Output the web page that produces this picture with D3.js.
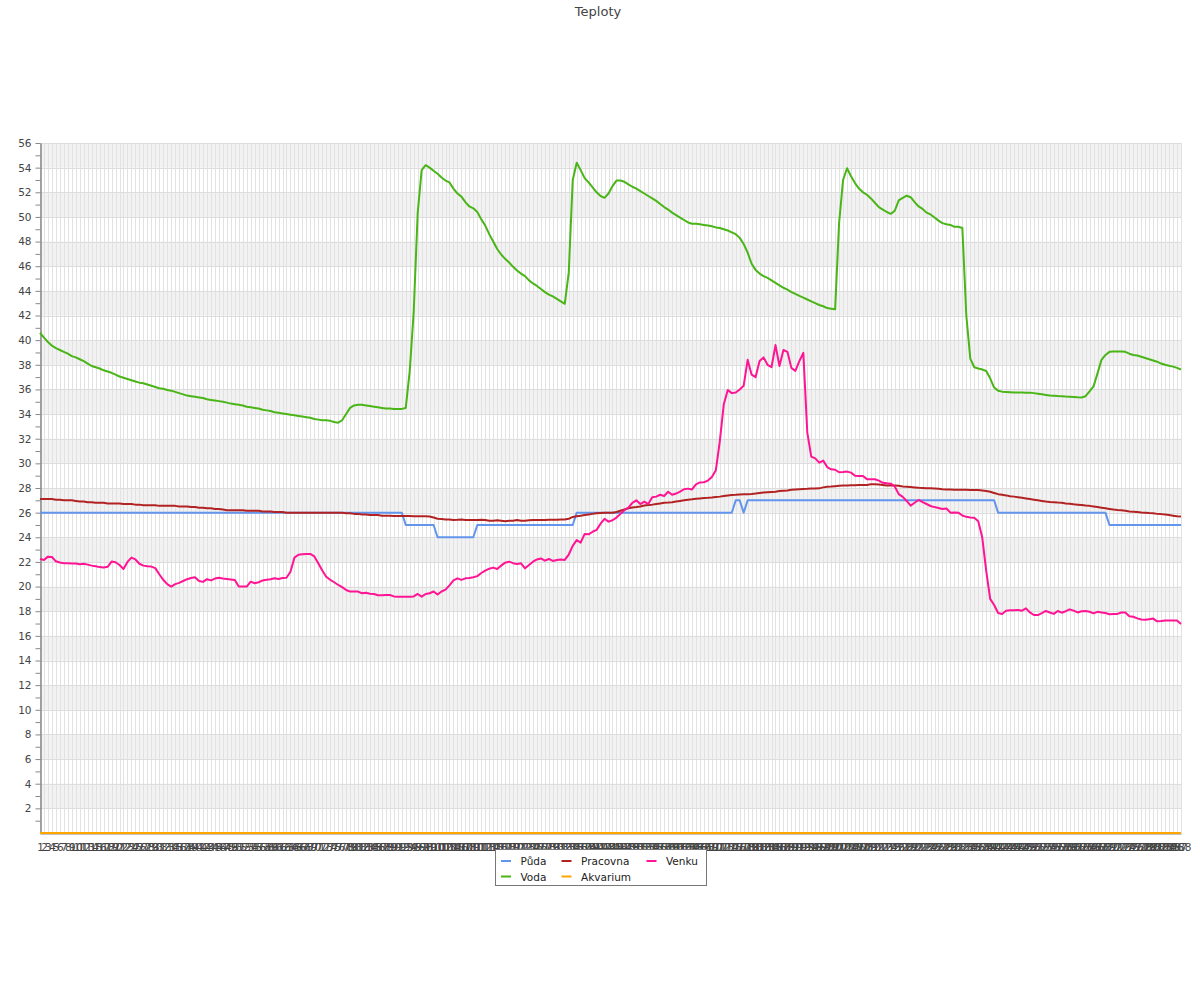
<!DOCTYPE html>
<html><head><meta charset="utf-8">
<script src="https://cdn.jsdelivr.net/npm/d3@7/dist/d3.min.js"></script>
<style>body{margin:0;background:#fff}svg{display:block}text{font-family:"DejaVu Sans",sans-serif}</style>
</head><body><svg id="c" width="1200" height="1000"></svg>
<script>
const title = "Teploty";
const categories = d3.range(1, 289).map(String);
const seriesNames = ["Půda", "Voda", "Pracovna", "Akvarium", "Venku"];
const seriesColors = ["#6495ED", "#4AB517", "#B22222", "#FFA500", "#FF1493"];
const yTicks = d3.range(2, 57, 2);

const puda = [
26,26,26,26,26,26,26,26,26,26, 26,26,26,26,26,26,26,26,26,26,
26,26,26,26,26,26,26,26,26,26, 26,26,26,26,26,26,26,26,26,26,
26,26,26,26,26,26,26,26,26,26, 26,26,26,26,26,26,26,26,26,26,
26,26,26,26,26,26,26,26,26,26, 26,26,26,26,26,26,26,26,26,26,
26,26,26,26,26,26,26,26,26,26, 26,26,25,25,25,25,25,25,25,25,
24,24,24,24,24,24,24,24,24,24, 25,25,25,25,25,25,25,25,25,25,
25,25,25,25,25,25,25,25,25,25, 25,25,25,25,25,26,26,26,26,26,
26,26,26,26,26,26,26,26,26,26, 26,26,26,26,26,26,26,26,26,26,
26,26,26,26,26,26,26,26,26,26, 26,26,26,26,26,27,27,26,27,27,
27,27,27,27,27,27,27,27,27,27, 27,27,27,27,27,27,27,27,27,27,
27,27,27,27,27,27,27,27,27,27, 27,27,27,27,27,27,27,27,27,27,
27,27,27,27,27,27,27,27,27,27, 27,27,27,27,27,27,27,27,27,27,
27,26,26,26,26,26,26,26,26,26, 26,26,26,26,26,26,26,26,26,26,
26,26,26,26,26,26,26,26,26,25, 25,25,25,25,25,25,25,25,25,25,
25,25,25,25,25,25,25,25];

const voda = [
40.6,40.2,39.85,39.55,39.35,39.2,39.05,38.9,38.7,38.6,
38.45,38.3,38.1,37.9,37.8,37.7,37.55,37.45,37.35,37.2,
37.05,36.95,36.85,36.75,36.65,36.55,36.5,36.4,36.3,36.2,
36.1,36.05,35.95,35.9,35.8,35.7,35.6,35.5,35.45,35.4,
35.35,35.3,35.2,35.15,35.1,35.05,35.0,34.93,34.85,34.8,
34.75,34.7,34.6,34.55,34.5,34.45,34.35,34.3,34.25,34.15,
34.1,34.05,34.0,33.95,33.9,33.85,33.8,33.75,33.7,33.6,
33.55,33.5,33.5,33.45,33.35,33.3,33.5,34.0,34.5,34.7,
34.75,34.75,34.7,34.65,34.6,34.55,34.5,34.45,34.45,34.42,
34.42,34.42,34.5,37.5,42.3,50.3,53.8,54.2,54.0,53.75,
53.5,53.2,52.95,52.8,52.3,51.9,51.65,51.2,50.85,50.7,
50.4,49.8,49.3,48.6,48.0,47.4,46.95,46.6,46.3,45.95,
45.65,45.4,45.2,44.85,44.6,44.4,44.15,43.9,43.7,43.55,
43.35,43.15,42.95,45.5,53.0,54.4,53.8,53.15,52.8,52.4,
52.0,51.7,51.55,51.9,52.5,52.95,52.95,52.85,52.65,52.45,
52.3,52.1,51.9,51.7,51.5,51.3,51.05,50.8,50.6,50.35,
50.15,49.95,49.75,49.55,49.45,49.45,49.4,49.35,49.3,49.25,
49.15,49.1,49.0,48.9,48.75,48.6,48.3,47.8,47.1,46.2,
45.7,45.4,45.2,45.05,44.85,44.65,44.45,44.25,44.1,43.9,
43.75,43.6,43.45,43.3,43.15,43.0,42.85,42.75,42.6,42.55,
42.5,49.5,53.0,53.95,53.3,52.75,52.3,52.0,51.8,51.5,
51.15,50.8,50.6,50.4,50.25,50.5,51.35,51.55,51.72,51.6,
51.2,50.85,50.65,50.35,50.2,49.95,49.7,49.5,49.4,49.35,
49.2,49.2,49.1,42.0,38.5,37.8,37.7,37.62,37.5,36.9,
36.15,35.9,35.82,35.8,35.78,35.76,35.75,35.75,35.74,35.74,
35.7,35.65,35.6,35.55,35.5,35.48,35.46,35.45,35.42,35.4,
35.38,35.36,35.35,35.45,35.85,36.25,37.3,38.4,38.8,39.05,
39.07,39.07,39.07,39.05,38.9,38.8,38.75,38.65,38.55,38.45,
38.35,38.25,38.1,38.0,37.92,37.85,37.75,37.62];

const pracovna = [
27.1,27.1,27.1,27.1,27.05,27.05,27.0,27.0,27.0,26.95,
26.9,26.9,26.85,26.85,26.8,26.8,26.8,26.75,26.75,26.75,
26.75,26.7,26.7,26.7,26.65,26.65,26.6,26.6,26.6,26.6,
26.55,26.55,26.55,26.55,26.55,26.5,26.5,26.5,26.45,26.45,
26.4,26.4,26.35,26.35,26.3,26.3,26.25,26.2,26.2,26.2,
26.2,26.2,26.15,26.15,26.15,26.15,26.1,26.1,26.1,26.05,
26.05,26.05,26.0,26.0,26.0,26.0,26.0,26.0,26.0,26.0,
26.0,26.0,26.0,26.0,26.0,26.0,26.0,25.95,25.95,25.9,
25.9,25.85,25.85,25.8,25.8,25.8,25.75,25.75,25.75,25.72,
25.72,25.72,25.72,25.72,25.7,25.7,25.7,25.7,25.68,25.6,
25.5,25.48,25.45,25.45,25.4,25.42,25.45,25.4,25.4,25.4,
25.4,25.42,25.4,25.35,25.35,25.38,25.35,25.3,25.35,25.35,
25.4,25.35,25.35,25.38,25.4,25.4,25.4,25.4,25.42,25.42,
25.42,25.45,25.45,25.5,25.65,25.7,25.75,25.8,25.85,25.9,
25.95,25.98,26.0,26.0,26.0,26.05,26.15,26.25,26.35,26.42,
26.45,26.5,26.58,26.62,26.65,26.7,26.75,26.8,26.82,26.85,
26.9,26.95,27.0,27.05,27.08,27.12,27.15,27.18,27.2,27.23,
27.27,27.3,27.35,27.4,27.43,27.45,27.48,27.5,27.5,27.52,
27.55,27.6,27.64,27.66,27.68,27.7,27.75,27.78,27.8,27.85,
27.88,27.9,27.92,27.93,27.95,27.95,27.97,28.05,28.1,28.12,
28.15,28.18,28.2,28.2,28.22,28.22,28.24,28.25,28.25,28.3,
28.3,28.28,28.25,28.2,28.22,28.2,28.18,28.12,28.1,28.08,
28.05,28.02,28.0,27.98,27.97,27.95,27.93,27.9,27.88,27.87,
27.86,27.85,27.85,27.85,27.84,27.84,27.84,27.8,27.75,27.7,
27.6,27.5,27.45,27.4,27.33,27.3,27.25,27.2,27.15,27.1,
27.05,27.0,26.95,26.9,26.87,26.85,26.82,26.8,26.75,26.72,
26.68,26.65,26.62,26.58,26.55,26.5,26.45,26.4,26.35,26.3,
26.25,26.22,26.2,26.15,26.1,26.08,26.05,26.02,26.0,25.97,
25.95,25.9,25.88,25.85,25.8,25.75,25.7,25.68];

const akvarium = [
0,0,0,0,0,0,0,0,0,0, 0,0,0,0,0,0,0,0,0,0, 0,0,0,0,0,0,0,0,0,0, 0,0,0,0,0,0,0,0,0,0,
0,0,0,0,0,0,0,0,0,0, 0,0,0,0,0,0,0,0,0,0, 0,0,0,0,0,0,0,0,0,0, 0,0,0,0,0,0,0,0,0,0,
0,0,0,0,0,0,0,0,0,0, 0,0,0,0,0,0,0,0,0,0, 0,0,0,0,0,0,0,0,0,0, 0,0,0,0,0,0,0,0,0,0,
0,0,0,0,0,0,0,0,0,0, 0,0,0,0,0,0,0,0,0,0, 0,0,0,0,0,0,0,0,0,0, 0,0,0,0,0,0,0,0,0,0,
0,0,0,0,0,0,0,0,0,0, 0,0,0,0,0,0,0,0,0,0, 0,0,0,0,0,0,0,0,0,0, 0,0,0,0,0,0,0,0,0,0,
0,0,0,0,0,0,0,0,0,0, 0,0,0,0,0,0,0,0,0,0, 0,0,0,0,0,0,0,0,0,0, 0,0,0,0,0,0,0,0,0,0,
0,0,0,0,0,0,0,0,0,0, 0,0,0,0,0,0,0,0,0,0, 0,0,0,0,0,0,0,0,0,0, 0,0,0,0,0,0,0,0,0,0,
0,0,0,0,0,0,0,0];

const venku = [
22.25,22.15,22.43,22.4,22.05,21.95,21.9,21.9,21.88,21.88,
21.82,21.85,21.78,21.7,21.65,21.58,21.54,21.6,22.03,21.97,
21.75,21.43,22.0,22.35,22.2,21.85,21.7,21.65,21.62,21.5,
21.0,20.55,20.2,20.0,20.2,20.3,20.45,20.6,20.7,20.75,
20.45,20.38,20.6,20.5,20.65,20.72,20.65,20.62,20.58,20.54,
20.0,20.0,20.0,20.4,20.27,20.35,20.5,20.56,20.6,20.68,
20.62,20.7,20.72,21.2,22.35,22.58,22.62,22.65,22.65,22.45,
21.9,21.3,20.8,20.55,20.35,20.13,19.95,19.72,19.59,19.59,
19.59,19.46,19.5,19.42,19.4,19.3,19.3,19.32,19.32,19.2,
19.18,19.18,19.18,19.18,19.2,19.4,19.18,19.4,19.46,19.6,
19.35,19.6,19.75,20.1,20.5,20.67,20.54,20.67,20.7,20.75,
20.85,21.1,21.3,21.45,21.54,21.43,21.7,21.94,22.02,21.9,
21.83,21.89,21.48,21.75,22.02,22.2,22.28,22.1,22.24,22.08,
22.15,22.2,22.16,22.6,23.3,23.78,23.56,24.27,24.24,24.45,
24.6,25.1,25.5,25.27,25.38,25.6,25.9,26.2,26.4,26.8,
27.0,26.7,26.89,26.7,27.25,27.3,27.45,27.35,27.7,27.45,
27.55,27.7,27.9,27.95,27.88,28.3,28.45,28.47,28.6,28.9,
29.45,31.8,34.8,35.95,35.7,35.75,36.0,36.3,38.4,37.2,
37.0,38.3,38.6,38.0,37.8,39.6,37.9,39.2,39.05,37.75,
37.5,38.3,38.97,32.5,30.55,30.4,30.06,30.22,29.7,29.52,
29.48,29.28,29.3,29.33,29.25,29.0,28.98,28.98,28.72,28.71,
28.71,28.6,28.42,28.38,28.35,28.12,27.5,27.28,26.95,26.57,
26.8,27.03,26.86,26.7,26.54,26.45,26.38,26.3,26.34,26.0,
26.01,26.0,25.77,25.66,25.6,25.58,25.3,24.0,21.3,19.0,
18.5,17.85,17.78,18.04,18.07,18.08,18.1,18.04,18.23,17.9,
17.69,17.69,17.85,18.02,17.9,17.78,18.02,17.88,18.0,18.15,
18.05,17.9,18.0,18.02,17.96,17.83,17.95,17.9,17.85,17.76,
17.77,17.78,17.9,17.9,17.6,17.55,17.42,17.33,17.3,17.35,
17.4,17.18,17.2,17.24,17.24,17.24,17.24,16.96];

const seriesData = [puda, voda, pracovna, akvarium, venku];

const svg = d3.select("#c");
const L = 40, R = 1181, T = 143, B = 833;
const x = d3.scalePoint().domain(categories).range([L, R]).padding(0);
const y = d3.scaleLinear().domain([0, 56]).range([B, T]);

// title
svg.append("text").attr("x", 598).attr("y", 15.5).attr("text-anchor", "middle")
  .attr("font-size", 13).attr("fill", "#444").text(title);

// background bands
const bands = d3.range(2, 56, 4);
svg.append("g").selectAll("rect").data(bands).join("rect")
  .attr("x", L).attr("width", R - L)
  .attr("y", d => y(d + 2)).attr("height", d => y(d) - y(d + 2))
  .attr("fill", "#f2f2f2");

// vertical grid
svg.append("g").selectAll("line").data(categories).join("line")
  .attr("x1", d => Math.round(x(d)) + 0.5).attr("x2", d => Math.round(x(d)) + 0.5)
  .attr("y1", T).attr("y2", B)
  .attr("stroke", "#e2e2e2").attr("stroke-width", 1);

// horizontal grid
svg.append("g").selectAll("line").data(yTicks).join("line")
  .attr("x1", L).attr("x2", R)
  .attr("y1", d => Math.round(y(d)) + 0.5).attr("y2", d => Math.round(y(d)) + 0.5)
  .attr("stroke", "#dddddd").attr("stroke-width", 1);

// y axis: minor ticks
const yMinor = svg.append("g").attr("transform", `translate(${L + 0.5},0)`)
  .call(d3.axisLeft(y).tickValues(d3.range(1, 56, 2)).tickSize(5).tickSizeOuter(0).tickFormat(""));
const yMajor = svg.append("g").attr("transform", `translate(${L + 0.5},0)`)
  .call(d3.axisLeft(y).tickValues(yTicks).tickSize(5).tickSizeOuter(0).tickPadding(4));
[yMinor, yMajor].forEach(g => {
  g.selectAll("path,line").attr("stroke", "#888");
  g.selectAll("text").attr("font-size", 10.5).attr("fill", "#444").attr("font-family", "DejaVu Sans");
});

// x axis
const xAx = svg.append("g").attr("transform", `translate(0,${B + 0.5})`)
  .call(d3.axisBottom(x).tickSize(0).tickSizeOuter(0).tickPadding(10));
xAx.select("path").attr("stroke", "#888");
xAx.selectAll("text").attr("font-size", 10.5).attr("fill", "#444").attr("font-family", "DejaVu Sans");

// series lines
const line = d3.line().x((d, i) => x(categories[i])).y(d => y(d));
svg.append("g").selectAll("path").data(seriesData).join("path")
  .attr("d", d => line(d))
  .attr("fill", "none")
  .attr("stroke", (d, i) => seriesColors[i])
  .attr("stroke-width", 2)
  .attr("stroke-linejoin", "round");

// legend
const lg = svg.append("g");
lg.append("rect").attr("x", 495.5).attr("y", 849.5).attr("width", 211).attr("height", 36)
  .attr("fill", "#fff").attr("stroke", "#777");
const colX = [501, 561.5, 646.5];
const rowY = [861, 876.5];
seriesNames.forEach((n, i) => {
  const c = Math.floor(i / 2), r = i % 2;
  lg.append("line").attr("x1", colX[c]).attr("x2", colX[c] + 10)
    .attr("y1", rowY[r]).attr("y2", rowY[r])
    .attr("stroke", seriesColors[i]).attr("stroke-width", 2);
  lg.append("text").attr("x", colX[c] + 19.5).attr("y", rowY[r] + 4)
    .attr("font-size", 10.5).attr("fill", "#222").text(n);
});
</script>
</body></html>
